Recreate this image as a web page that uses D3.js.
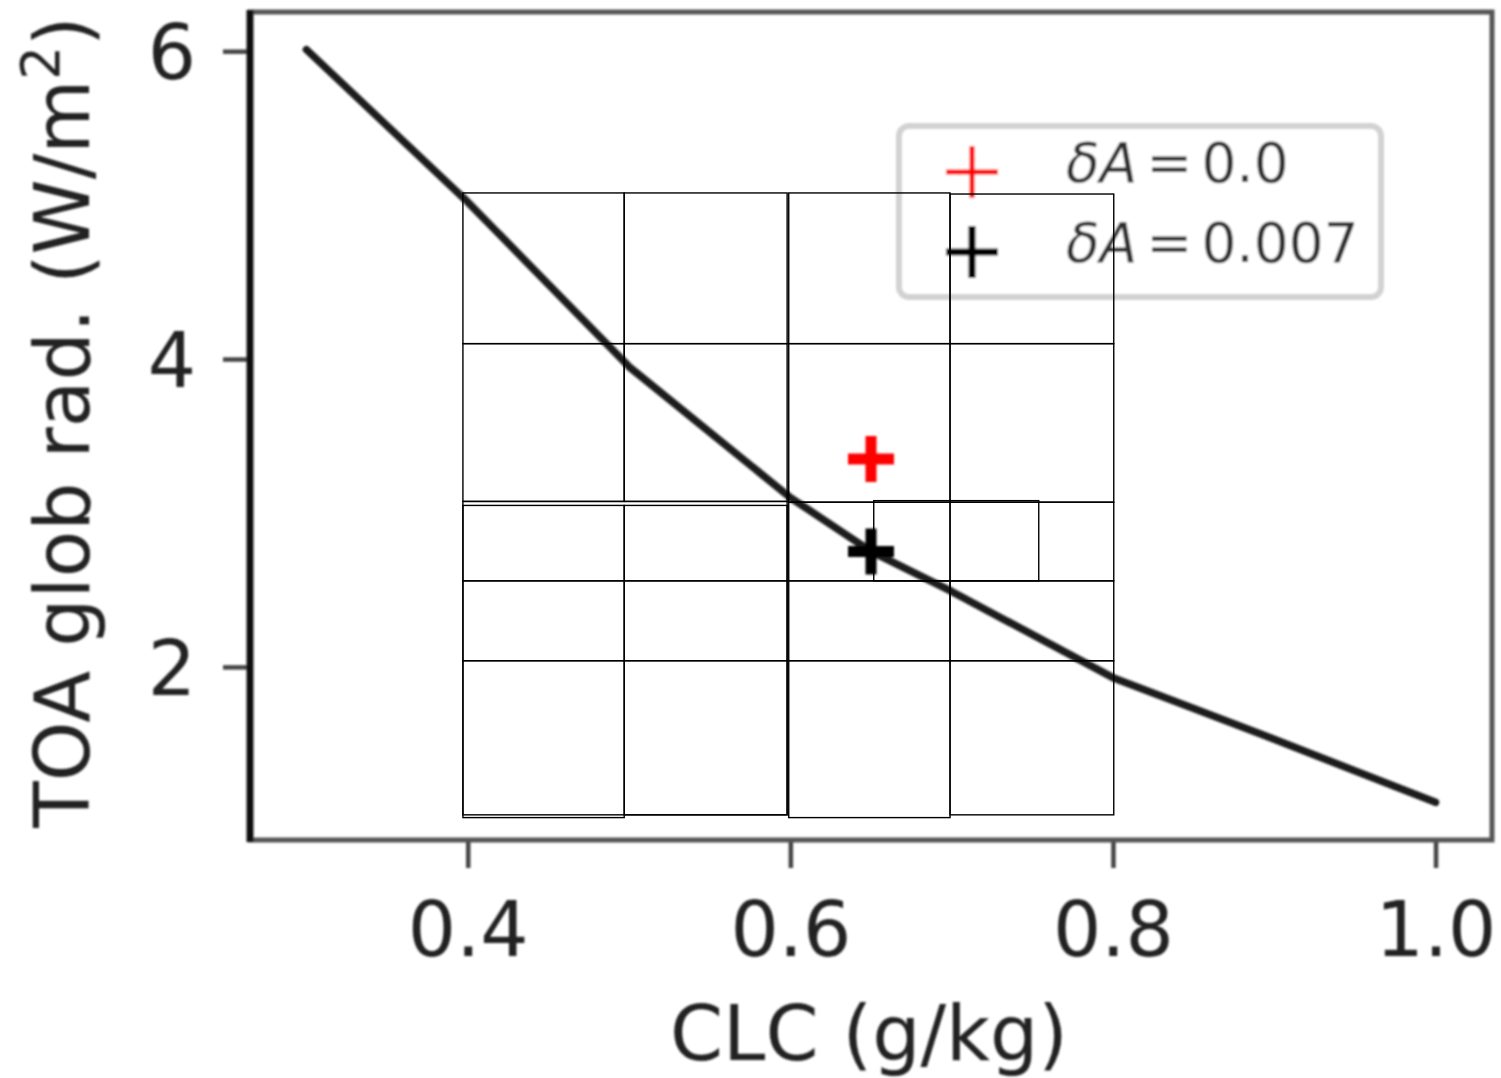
<!DOCTYPE html>
<html>
<head>
<meta charset="utf-8">
<script src="https://cdn.jsdelivr.net/npm/d3@7"></script>
<style>
  html, body { margin: 0; padding: 0; background: #fff; }
  text { font-family: "DejaVu Sans", sans-serif; }
</style>
</head>
<body>
<script>
// curve: TOA radiation vs cloud liquid content
const clcValues = [0.3, 0.4, 0.5, 0.6, 0.65, 0.7, 0.8, 0.9, 1.0];
const toaValues = [6.01, 5.02, 3.95, 3.10, 2.75, 2.49, 1.93, 1.53, 1.12];

// the two + markers and their legend entries
const pointNames = ["δA", "δA"];
const pointValues = ["0.0", "0.007"];
const pointX = [0.65, 0.65];
const pointY = [3.35, 2.75];
const pointColors = ["#ff0000", "#000000"];

// boxes [x0, x1, y0, y1] in data units
const boxes = [
  [0.397, 0.497, 4.10, 5.079], [0.497, 0.598, 4.10, 5.079],
  [0.397, 0.497, 3.075, 4.10], [0.497, 0.598, 3.075, 4.10],
  [0.599, 0.699, 4.10, 5.079], [0.699, 0.8005, 4.10, 5.072],
  [0.599, 0.699, 3.07, 4.10], [0.699, 0.8005, 3.07, 4.10],
  [0.397, 0.497, 2.559, 3.049], [0.497, 0.598, 2.559, 3.049],
  [0.397, 0.497, 2.04, 2.559], [0.497, 0.598, 2.04, 2.559],
  [0.397, 0.497, 1.021, 2.04], [0.497, 0.598, 1.039, 2.04],
  [0.397, 0.598, 1.039, 3.075],
  [0.599, 0.699, 2.559, 3.07], [0.699, 0.8005, 2.559, 3.07],
  [0.599, 0.699, 2.04, 2.559], [0.699, 0.8005, 2.04, 2.559],
  [0.599, 0.699, 1.021, 2.04], [0.699, 0.8005, 1.039, 2.04],
  [0.6517, 0.754, 2.559, 3.08]
];

const xTicks = [0.4, 0.6, 0.8, 1.0];
const yTicks = [2, 4, 6];

const width = 1501, height = 1078;
const axL = 250, axR = 1492, axT = 12, axB = 840;

const svg = d3.select("body").append("svg")
  .attr("width", width)
  .attr("height", height);

const defs = svg.append("defs");
defs.append("filter").attr("id", "soft")
  .attr("x", "-5%").attr("y", "-5%").attr("width", "110%").attr("height", "110%")
  .append("feGaussianBlur").attr("stdDeviation", 1.2);

// matplotlib style 5% margins
const xExt = d3.extent(clcValues), yExt = d3.extent(toaValues);
const xPad = (xExt[1] - xExt[0]) * 0.05, yPad = (yExt[1] - yExt[0]) * 0.05;

const x = d3.scaleLinear()
  .domain([xExt[0] - xPad, xExt[1] + xPad])
  .range([axL, axR]);
const y = d3.scaleLinear()
  .domain([yExt[0] - yPad, yExt[1] + yPad])
  .range([axB, axT]);

const soft = svg.append("g").attr("filter", "url(#soft)");

// axes
const xAxis = soft.append("g")
  .attr("transform", `translate(0,${axB})`)
  .call(d3.axisBottom(x).tickValues(xTicks).tickFormat(d3.format(".1f")).tickSize(28).tickPadding(34));
const yAxis = soft.append("g")
  .attr("transform", `translate(${axL},0)`)
  .call(d3.axisLeft(y).tickValues(yTicks).tickFormat(d3.format("d")).tickSize(27).tickPadding(27));

[xAxis, yAxis].forEach(a => {
  a.select(".domain").remove();
  a.selectAll(".tick line").attr("stroke", "#444").attr("stroke-width", 4.5);
  a.selectAll(".tick text")
    .attr("fill", "#222")
    .attr("font-size", 76)
    .attr("font-family", "DejaVu Sans");
});
xAxis.selectAll(".tick text").attr("dy", "0.71em");
yAxis.selectAll(".tick text").attr("dy", "0.36em");

// frame
soft.append("rect")
  .attr("x", axL).attr("y", axT)
  .attr("width", axR - axL).attr("height", axB - axT)
  .attr("fill", "none")
  .attr("stroke", "#555")
  .attr("stroke-width", 5);
soft.append("line")
  .attr("x1", axL).attr("x2", axL)
  .attr("y1", axT - 2).attr("y2", axB + 2)
  .attr("stroke", "#111")
  .attr("stroke-width", 7);

// axis labels
soft.append("text")
  .attr("x", (axL + axR) / 2 - 2)
  .attr("y", 1060)
  .attr("text-anchor", "middle")
  .attr("font-size", 76)
  .attr("fill", "#222")
  .text("CLC (g/kg)");

const yl = soft.append("text")
  .attr("transform", `translate(89,${(axT + axB) / 2 - 4}) rotate(-90)`)
  .attr("text-anchor", "middle")
  .attr("font-size", 76)
  .attr("fill", "#222");
yl.append("tspan").text("TOA glob rad. (W/m");
yl.append("tspan").attr("font-size", 53).attr("dy", -30).text("2");
yl.append("tspan").attr("dy", 30).text(")");

// curve
const line = d3.line()
  .x((d, i) => x(clcValues[i]))
  .y(d => y(d));

soft.append("path")
  .datum(toaValues)
  .attr("d", line)
  .attr("fill", "none")
  .attr("stroke", "#1e1e1e")
  .attr("stroke-width", 7.5)
  .attr("stroke-linecap", "round")
  .attr("stroke-linejoin", "round");

// + markers
const plus = s => `M${-s},0H${s}M0,${-s}V${s}`;
soft.selectAll(".pt")
  .data(pointX)
  .enter()
    .append("path")
    .attr("class", "pt")
    .attr("transform", (d, i) => `translate(${x(d)},${y(pointY[i])})`)
    .attr("d", plus(23))
    .attr("fill", "none")
    .attr("stroke", (d, i) => pointColors[i])
    .attr("stroke-width", 11);

// legend
const lg = soft.append("g");
lg.append("rect")
  .attr("x", 899).attr("y", 126)
  .attr("width", 482).attr("height", 171)
  .attr("rx", 10)
  .attr("fill", "#fff")
  .attr("stroke", "#d2d2d2")
  .attr("stroke-width", 6);

const rowY = [172, 252];
pointNames.forEach((nm, i) => {
  lg.append("path")
    .attr("transform", `translate(972,${rowY[i]})`)
    .attr("d", plus(26))
    .attr("fill", "none")
    .attr("stroke", pointColors[i])
    .attr("stroke-width", i === 0 ? 5 : 7);
  const t = lg.append("text")
    .attr("x", 1066)
    .attr("y", rowY[i] + 10)
    .attr("font-size", 55)
    .attr("fill", "#333");
  t.append("tspan").attr("font-style", "italic").text(nm);
  t.append("tspan").attr("dx", 9).text("=");
  t.append("tspan").attr("dx", 9).text(pointValues[i]);
});

// boxes on top
svg.append("g")
  .selectAll("rect")
  .data(boxes)
  .enter()
    .append("rect")
    .attr("x", d => x(d[0]))
    .attr("y", d => y(d[3]))
    .attr("width", d => x(d[1]) - x(d[0]))
    .attr("height", d => y(d[2]) - y(d[3]))
    .attr("fill", "none")
    .attr("stroke", "#000")
    .attr("stroke-width", 1.4);
</script>
</body>
</html>
